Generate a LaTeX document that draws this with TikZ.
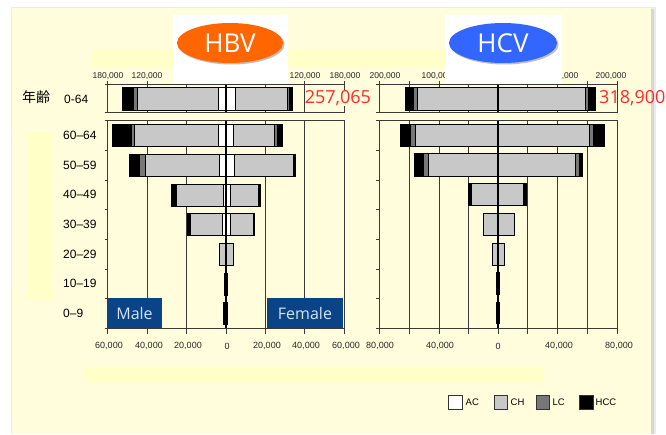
\documentclass[tikz,border=0pt]{standalone}
\usepackage{fontspec}
\setmainfont{Liberation Sans}
\newfontfamily\cjkfont{Noto Sans CJK JP}
\newfontfamily\opfont{Open Sans}
\usetikzlibrary{shapes.geometric}
\definecolor{bgy}{HTML}{FFFDDC}
\definecolor{bandy}{HTML}{FFFFC8}
\definecolor{chg}{HTML}{C8C8C8}
\definecolor{lcg}{HTML}{777777}
\definecolor{gridc}{HTML}{3A3A3A}
\definecolor{hbvo}{HTML}{FF6600}
\definecolor{hcvb}{HTML}{3366FF}
\definecolor{mfblue}{HTML}{0A4486}
\definecolor{mftext}{HTML}{D5E2F0}
\definecolor{numred}{HTML}{FF2A2A}
\tikzset{
  segac/.style={fill=white,draw=black,line width=0.7pt},
  segch/.style={fill=chg,draw=black,line width=0.7pt},
  seglc/.style={fill=lcg,draw=black,line width=0.7pt},
  seghcc/.style={fill=black,draw=black,line width=0.7pt},
  gridln/.style={draw=gridc,line width=0.8pt},
  axisln/.style={draw=black,line width=1.6pt},
  frm/.style={draw=gridc,line width=0.9pt},
  ticklbl/.style={font=\fontsize{8.5}{10}\selectfont,text=black!85,inner sep=0pt},
  btmlbl/.style={font=\fontsize{9}{10}\selectfont,text=black!85,inner sep=0pt},
  agelbl/.style={font=\fontsize{12}{14}\selectfont,anchor=west,inner sep=0pt},
  leglbl/.style={font=\fontsize{9.5}{11}\selectfont,anchor=west,inner sep=0pt},
  legbox/.style={draw=black!80,line width=0.8pt},
  virus/.style={ellipse,minimum width=106pt,minimum height=40pt,inner sep=0pt,text=white,font=\opfont\fontsize{26}{28}\selectfont},
  sexbox/.style={fill=mfblue,draw=none,text=mftext,font=\opfont\fontsize{16}{18}\selectfont,inner sep=0pt},
  bignum/.style={text=numred,font=\opfont\fontsize{18}{20}\selectfont,inner sep=0pt,anchor=west},
}
\newcommand\seg[5]{\draw[#1] (#2,#4) rectangle (#3,#5);}
\begin{document}
\begin{tikzpicture}[x=1pt,y=-1pt]
\useasboundingbox (0,0) rectangle (666,434);
\fill[white] (0,0) rectangle (666,434);
% panel with shadow
\fill[black!8] (11,6.5) rectangle (656,434);
\fill[black!16] (651,9) rectangle (654,434);
\fill[bgy] (12,8) rectangle (651,434);
% bands
\fill[bandy] (92,50) rectangle (445,67);
\fill[bandy] (27,132) rectangle (53,300);
\fill[bandy] (85,367) rectangle (543,382);

% ================= HBV =================
% top chart
\foreach \x in {147,186,265,304} \draw[gridln] (\x,84.5) -- (\x,112);
\foreach \x in {107.5,147,186,226,265,304,344} \draw[gridln] (\x,81) -- (\x,84.5);
\draw[frm] (107.5,84.5) rectangle (344,112);
\draw[frm] (104.5,84.5) -- (107.5,84.5) (104.5,112) -- (107.5,112);
\seg{seghcc}{122}{133}{87}{110}
\seg{seglc}{133}{137}{87}{110}
\seg{segch}{137}{218}{87}{110}
\seg{segac}{218}{226}{87}{110}
\seg{segac}{226}{235}{87}{110}
\seg{segch}{235}{287}{87}{110}
\seg{seglc}{287}{289}{87}{110}
\seg{seghcc}{289}{292}{87}{110}
\draw[axisln] (226,84.5) -- (226,112);

% main chart
\foreach \x in {147,186,265,304} \draw[gridln] (\x,120.5) -- (\x,328);
\draw[frm] (107.5,120.5) rectangle (344,328);
\foreach \y in {120.5,150,180,209,239,269,298,328} \draw[frm] (104.5,\y) -- (107.5,\y);
\foreach \x in {107.5,147,186,226,265,304,344} \draw[frm] (\x,328) -- (\x,334);
% 60-64
\seg{seghcc}{112}{131}{124}{146}
\seg{seglc}{131}{134}{124}{146}
\seg{segch}{134}{218}{124}{146}
\seg{segac}{218}{226}{124}{146}
\seg{segac}{226}{233}{124}{146}
\seg{segch}{233}{274}{124}{146}
\seg{seglc}{274}{277}{124}{146}
\seg{seghcc}{277}{282}{124}{146}
% 50-59
\seg{seghcc}{129}{139}{154}{176}
\seg{seglc}{139}{145}{154}{176}
\seg{segch}{145}{219}{154}{176}
\seg{segac}{219}{226}{154}{176}
\seg{segac}{226}{234}{154}{176}
\seg{segch}{234}{293}{154}{176}
\seg{seghcc}{293}{295}{154}{176}
% 40-49
\seg{seghcc}{171}{175}{184}{206}
\seg{seglc}{175}{176.5}{184}{206}
\seg{segch}{176.5}{223}{184}{206}
\seg{segac}{223}{226}{184}{206}
\seg{segac}{226}{230}{184}{206}
\seg{segch}{230}{258}{184}{206}
\seg{seghcc}{258}{260}{184}{206}
% 30-39
\seg{seghcc}{187}{190}{213}{235}
\seg{segch}{190}{222}{213}{235}
\seg{segac}{222}{226}{213}{235}
\seg{segac}{226}{230}{213}{235}
\seg{segch}{230}{253}{213}{235}
\seg{seghcc}{253}{254.5}{213}{235}
% 20-29
\seg{segch}{219}{226}{243}{265}
\seg{segch}{226}{233}{243}{265}
% 10-19, 0-9
\seg{seghcc}{224.5}{227}{273}{295}
\seg{seghcc}{223.5}{227}{302}{324}
\draw[axisln] (226,120.5) -- (226,328);

% male / female
\node[sexbox,minimum width=55pt,minimum height=29.5pt] (male) at (134.5,313) {Male};
\node[sexbox,minimum width=76pt,minimum height=29.5pt] (female) at (305,313) {Female};

% ================= HCV =================
% top chart
\foreach \x in {409,439,468,527,557,587} \draw[gridln] (\x,84.5) -- (\x,112);
\foreach \x in {379,409,439,468,498,527,557,587,617} \draw[gridln] (\x,81) -- (\x,84.5);
\draw[frm] (379,84.5) rectangle (617,112);
\draw[frm] (376,84.5) -- (379,84.5) (376,112) -- (379,112);
\seg{seghcc}{405}{413}{87}{110}
\seg{seglc}{413}{417}{87}{110}
\seg{segch}{417}{498}{87}{110}
\seg{segch}{498}{585}{87}{110}
\seg{seglc}{585}{588}{87}{110}
\seg{seghcc}{588}{595}{87}{110}
\draw[axisln] (498,84.5) -- (498,112);

% main chart
\foreach \x in {409,439,468,527,557,587} \draw[gridln] (\x,120.5) -- (\x,328);
\draw[frm] (379,120.5) rectangle (617,328);
\foreach \y in {120.5,150,180,209,239,269,298,328} \draw[frm] (376,\y) -- (379,\y);
\foreach \x in {379,409,439,468,498,527,557,587,617} \draw[frm] (\x,328) -- (\x,334);
% 60-64
\seg{seghcc}{400}{410}{124}{146}
\seg{seglc}{410}{415}{124}{146}
\seg{segch}{415}{498}{124}{146}
\seg{segch}{498}{589}{124}{146}
\seg{seglc}{589}{593}{124}{146}
\seg{seghcc}{593}{604}{124}{146}
% 50-59
\seg{seghcc}{414}{423}{153}{176}
\seg{seglc}{423}{428}{153}{176}
\seg{segch}{428}{498}{153}{176}
\seg{segch}{498}{575}{153}{176}
\seg{seglc}{575}{579}{153}{176}
\seg{seghcc}{579}{582}{153}{176}
% 40-49
\seg{seghcc}{468}{471}{183}{205}
\seg{segch}{471}{498}{183}{205}
\seg{segch}{498}{523}{183}{205}
\seg{seghcc}{523}{526}{183}{205}
% 30-39
\seg{segch}{483}{498}{213}{235}
\seg{segch}{498}{514}{213}{235}
% 20-29
\seg{segch}{492}{498}{243}{265}
\seg{segch}{498}{504}{243}{265}
% 10-19, 0-9
\seg{seghcc}{496.5}{499.5}{272}{294}
\seg{seghcc}{496.5}{499.5}{302}{323}
\draw[axisln] (498,120.5) -- (498,328);

% ================= axis labels =================
\node[ticklbl] (tb1) at (108,76) {180,000};
\node[ticklbl] (tb2) at (147,76) {120,000};
\node[ticklbl] (tb3) at (187,76) {60,000};
\node[ticklbl] (tb5) at (265,76) {60,000};
\node[ticklbl] (tb6) at (305,76) {120,000};
\node[ticklbl] (tb7) at (345,76) {180,000};
\node[ticklbl] (tc1) at (385,76) {200,000};
\node[ticklbl] (tc2) at (437,76) {100,000};
\node[ticklbl] (tc4) at (563,76) {100,000};
\node[ticklbl] (tc5) at (611,76) {200,000};

\node[btmlbl] (bb1) at (109,346) {60,000};
\node[btmlbl] (bb2) at (149,346) {40,000};
\node[btmlbl] (bb3) at (188,346) {20,000};
\node[btmlbl] (bb4) at (227,346) {0};
\node[btmlbl] (bb5) at (267,346) {20,000};
\node[btmlbl] (bb6) at (306,346) {40,000};
\node[btmlbl] (bb7) at (346,346) {60,000};
\node[btmlbl] (bc1) at (380,346) {80,000};
\node[btmlbl] (bc2) at (440,346) {40,000};
\node[btmlbl] (bc3) at (498,346) {0};
\node[btmlbl] (bc4) at (559,346) {40,000};
\node[btmlbl] (bc5) at (619,346) {80,000};

% white boxes and virus ellipses
\fill[white] (173,15) rectangle (288,83.5);
\fill[white] (445,15) rectangle (562,83.5);
\fill[black!25] (231.5,44.5) ellipse (53pt and 20pt);
\fill[black!25] (504.5,44.5) ellipse (54pt and 20pt);
\node[virus,fill=hbvo] (hbv) at (230,43) {HBV};
\node[virus,fill=hcvb,minimum width=108pt] (hcv) at (503,43) {HCV};

% totals
\node[bignum,fill=bgy] (nb) at (304.6,98) {257,065};
\node[bignum] (nc) at (599,98) {318,900};

% age labels
\node[font=\cjkfont\fontsize{14}{16}\selectfont,anchor=west,inner sep=0pt] (nenrei) at (22,97) {年齢};
\node[agelbl] (a0) at (64,99) {0-64};
\node[agelbl] (a1) at (63,135.5) {60–64};
\node[agelbl] (a2) at (63,165) {50–59};
\node[agelbl] (a3) at (63,194.5) {40–49};
\node[agelbl] (a4) at (63,224) {30–39};
\node[agelbl] (a5) at (63,254) {20–29};
\node[agelbl] (a6) at (63,283.5) {10–19};
\node[agelbl] (a7) at (63,313) {0–9};

% legend
\draw[legbox,fill=white] (448,395) rectangle (462,409);
\node[leglbl] (lac) at (465.5,402) {AC};
\draw[legbox,fill=chg] (494,395) rectangle (507,409);
\node[leglbl] (lch) at (510.5,402) {CH};
\draw[legbox,fill=lcg] (536,395) rectangle (549,409);
\node[leglbl] (llc) at (552.5,402) {LC};
\draw[legbox,fill=black] (579,395) rectangle (593,409);
\node[leglbl] (lhcc) at (595.5,402) {HCC};
\end{tikzpicture}
\end{document}
